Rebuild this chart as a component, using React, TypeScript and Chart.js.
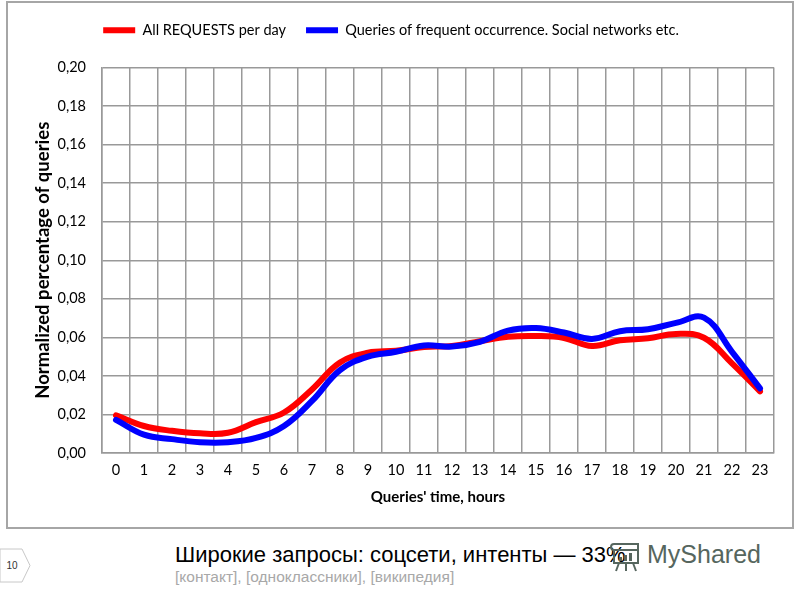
import React, { useEffect, useRef } from "react";
import { Chart, registerables } from "chart.js";

Chart.register(...registerables);

const hours: string[] = [
  "0", "1", "2", "3", "4", "5", "6", "7", "8", "9", "10", "11",
  "12", "13", "14", "15", "16", "17", "18", "19", "20", "21", "22", "23",
];

const allRequests: number[] = [
  0.0195, 0.014, 0.0115, 0.0102, 0.0105, 0.016, 0.021, 0.033, 0.047, 0.052, 0.053, 0.055,
  0.0555, 0.058, 0.0603, 0.0607, 0.0597, 0.0555, 0.0585, 0.0595, 0.0618, 0.0598, 0.0465, 0.032,
];

const frequentQueries: number[] = [
  0.0172, 0.0095, 0.0072, 0.0056, 0.0056, 0.0078, 0.014, 0.027, 0.043, 0.05, 0.0525, 0.0558,
  0.0552, 0.0577, 0.0635, 0.0648, 0.0625, 0.0592, 0.0632, 0.0642, 0.0675, 0.0702, 0.0525, 0.0335,
];

const seriesLabels: string[] = [
  "All REQUESTS per day",
  "Queries of frequent occurrence. Social networks etc.",
];

const yTitle = "Normalized percentage of queries";
const xTitle = "Queries' time, hours";
const caption = "Широкие запросы: соцсети, интенты — 33%";
const subCaption = "[контакт], [одноклассники], [википедия]";
const slideNumber = "10";
const watermark = "MyShared";

const FONT = "Lato, 'Open Sans', sans-serif";
const SANS = "'Liberation Sans', Arial, sans-serif";

export default function App() {
  const canvasRef = useRef<HTMLCanvasElement | null>(null);

  useEffect(() => {
    if (!canvasRef.current) return;
    const legendSpacer = {
      id: "legendSpacer",
      beforeInit(chart: any) {
        const orig = chart.legend.fit;
        chart.legend.fit = function fit() {
          orig.bind(chart.legend)();
          this.height += 20;
        };
      },
    };
    const chart = new Chart(canvasRef.current, {
      type: "line",
      data: {
        labels: hours,
        datasets: [
          {
            label: seriesLabels[0],
            data: allRequests,
            borderColor: "#ff0000",
            backgroundColor: "#ff0000",
            borderWidth: 6,
            borderCapStyle: "round",
            borderJoinStyle: "round",
            pointRadius: 0,
            pointStyle: "line",
            tension: 0.4,
            order: 1,
          },
          {
            label: seriesLabels[1],
            data: frequentQueries,
            borderColor: "#0000ff",
            backgroundColor: "#0000ff",
            borderWidth: 6,
            borderCapStyle: "round",
            borderJoinStyle: "round",
            pointRadius: 0,
            pointStyle: "line",
            tension: 0.4,
            order: 0,
          },
        ],
      },
      options: {
        animation: false,
        responsive: false,
        maintainAspectRatio: false,
        layout: { padding: { top: 0, right: 18, bottom: 10, left: 0 } },
        plugins: {
          legend: {
            position: "top",
            labels: {
              usePointStyle: true,
              pointStyleWidth: 32,
              padding: 20,
              color: "#000",
              font: { family: FONT, size: 14.5 },
              sort: (a: any, b: any) => a.datasetIndex - b.datasetIndex,
            },
          },
          tooltip: { enabled: false },
        },
        scales: {
          x: {
            offset: true,
            grid: { offset: true, color: "#999", lineWidth: 1.5, drawTicks: false },
            border: { color: "#999", width: 1.5 },
            ticks: { color: "#000", padding: 9, font: { family: FONT, size: 14.5 } },
            title: {
              display: true,
              text: xTitle,
              color: "#000",
              font: { family: FONT, size: 15, weight: "bold" },
              padding: { top: 0, bottom: 11 },
            },
            afterFit: (s: any) => {
              s.height = 64;
            },
          },
          y: {
            min: 0,
            max: 0.2,
            grid: { color: "#999", lineWidth: 1.5, drawTicks: false },
            border: { color: "#999", width: 1.5 },
            ticks: {
              stepSize: 0.02,
              padding: 16,
              color: "#000",
              font: { family: FONT, size: 14.5 },
              callback: (v: any) => Number(v).toFixed(2).replace(".", ","),
            },
            title: {
              display: true,
              text: yTitle,
              color: "#000",
              font: { family: FONT, size: 18.5, weight: "bold" },
              padding: { top: 24, bottom: 0 },
            },
            afterFit: (s: any) => {
              s.width = 94;
            },
          },
        },
      },
      plugins: [legendSpacer],
    } as any);
    return () => chart.destroy();
  }, []);

  return (
    <div style={{ position: "absolute", left: 0, top: 0, width: 800, height: 600, background: "#fff", overflow: "hidden" }}>
      <div
        style={{
          position: "absolute",
          left: 6,
          top: 1,
          width: 788,
          height: 528,
          border: "2px solid #a6a6a6",
          boxSizing: "border-box",
        }}
      />
      <canvas
        ref={canvasRef}
        width={784}
        height={524}
        style={{ position: "absolute", left: 8, top: 3, width: 784, height: 524 }}
      />
      <svg style={{ position: "absolute", left: 0, top: 548 }} width={34} height={36}>
        <polygon points="0,1 22,1 30,17.5 22,34 0,34" fill="#fff" stroke="#c8c8c8" strokeWidth={1} />
        <text x={12} y={21} fontSize={10} fontFamily={SANS} textAnchor="middle" fill="#333">
          {slideNumber}
        </text>
      </svg>
      <div
        style={{
          position: "absolute",
          left: 175,
          top: 542,
          fontFamily: SANS,
          fontSize: 22,
          color: "#000",
          whiteSpace: "nowrap",
          lineHeight: "26px",
        }}
      >
        {caption}
      </div>
      <div
        style={{
          position: "absolute",
          left: 175,
          top: 568,
          fontFamily: SANS,
          fontSize: 15.5,
          color: "#a8a8a8",
          whiteSpace: "nowrap",
          lineHeight: "18px",
        }}
      >
        {subCaption}
      </div>
      <svg style={{ position: "absolute", left: 609, top: 540 }} width={34} height={32}>
        <g fill="none" stroke="#56665e" strokeWidth={2}>
          <path d="M5,4 Q2,4 2,7 Q2,10 5,10 L29,10 L29,4 Z" />
          <rect x={5} y={10} width={24} height={13} />
          <line x1={10} y1={23} x2={7} y2={31} />
          <line x1={17} y1={23} x2={17} y2={31} />
          <line x1={24} y1={23} x2={27} y2={31} />
        </g>
        <g fill="#56665e">
          <rect x={10} y={17} width={3} height={4} />
          <rect x={15} y={15} width={3} height={6} />
          <rect x={20} y={13} width={3} height={8} />
        </g>
      </svg>
      <div
        style={{
          position: "absolute",
          left: 647,
          top: 540,
          fontFamily: SANS,
          fontSize: 25,
          color: "#56665e",
          whiteSpace: "nowrap",
          lineHeight: "28px",
        }}
      >
        {watermark}
      </div>
    </div>
  );
}
